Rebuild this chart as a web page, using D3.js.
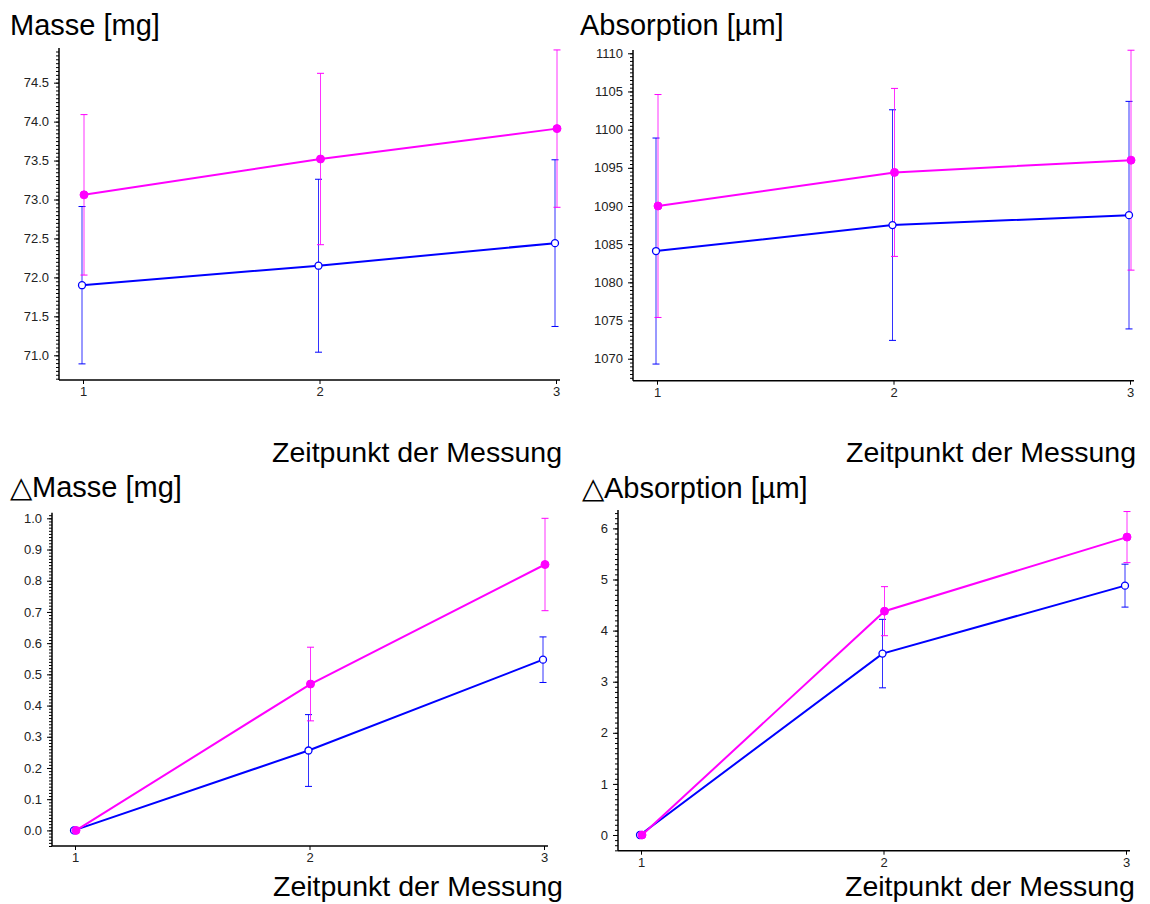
<!DOCTYPE html>
<html><head><meta charset="utf-8">
<script src="https://cdn.jsdelivr.net/npm/d3@7"></script>
<style>
html,body{margin:0;padding:0;background:#fff;}
svg{display:block;font-family:"Liberation Sans",Arial,Helvetica,sans-serif;}
</style></head>
<body>
<svg id="c" width="1150" height="904"></svg>
<script>
// ---------- data ----------
const categories = [1, 2, 3];
const xTickLabels = ["1", "2", "3"];
const xAxisLabel = "Zeitpunkt der Messung";

const titles = ["Masse [mg]", "Absorption [µm]", "\u25B3Masse [mg]", "\u25B3Absorption [µm]"];

const masseMag      = [73.06, 73.52, 73.91];
const masseMagErr   = [1.03, 1.10, 1.01];
const masseBlue     = [71.90, 72.15, 72.44];
const masseBlueErr  = [1.01, 1.11, 1.07];

const absMag        = [1090.0, 1094.4, 1096.0];
const absMagErr     = [14.6, 11.0, 14.4];
const absBlue       = [1084.1, 1087.5, 1088.8];
const absBlueErr    = [14.8, 15.1, 14.9];

const dMasseMag     = [0, 0.469, 0.852];
const dMasseMagErr  = [0, 0.118, 0.148];
const dMasseBlue    = [0, 0.256, 0.547];
const dMasseBlueErr = [0, 0.115, 0.073];

const dAbsMag       = [0, 4.38, 5.83];
const dAbsMagErr    = [0, 0.48, 0.50];
const dAbsBlue      = [0, 3.55, 4.88];
const dAbsBlueErr   = [0, 0.67, 0.42];

const yTicks1 = [71.0, 71.5, 72.0, 72.5, 73.0, 73.5, 74.0, 74.5];
const yTicks2 = [1070, 1075, 1080, 1085, 1090, 1095, 1100, 1105, 1110];
const yTicks3 = [0.0, 0.1, 0.2, 0.3, 0.4, 0.5, 0.6, 0.7, 0.8, 0.9, 1.0];
const yTicks4 = [0, 1, 2, 3, 4, 5, 6];

// ---------- layout / style ----------
const MAG = "#ff00ff", BLUE = "#0000ff";
const svg = d3.select("#c");

const panels = [
  {title: titles[0], tx: 10, ty: 35, left: 59, x1: 83, x3: 556, xEnd: 560, top: 48, bottom: 380,
   yDom: [70.683, 74.945], ticks: yTicks1, fmt: d3.format(".1f"), minor: 0.05,
   mag: masseMag, magErr: masseMagErr, blue: masseBlue, blueErr: masseBlueErr,
   lx: 562, ly: 462, anchor: "end"},
  {title: titles[1], tx: 580, ty: 35, left: 633, x1: 657, x3: 1130, xEnd: 1134, top: 50, bottom: 380.7,
   yDom: [1067.12, 1110.43], ticks: yTicks2, fmt: d3.format("d"), minor: 0.5,
   mag: absMag, magErr: absMagErr, blue: absBlue, blueErr: absBlueErr,
   lx: 1136, ly: 462, anchor: "end"},
  {title: titles[2], tx: 10, ty: 497, left: 52, x1: 75, x3: 544, xEnd: 548, top: 512.7, bottom: 846,
   yDom: [-0.050, 1.018], ticks: yTicks3, fmt: d3.format(".1f"), minor: 0.01,
   mag: dMasseMag, magErr: dMasseMagErr, blue: dMasseBlue, blueErr: dMasseBlueErr,
   lx: 273, ly: 896, anchor: "start"},
  {title: titles[3], tx: 582, ty: 498, left: 618, x1: 641, x3: 1126, xEnd: 1130, top: 510, bottom: 850.7,
   yDom: [-0.307, 6.36], ticks: yTicks4, fmt: d3.format("d"), minor: 0.1,
   mag: dAbsMag, magErr: dAbsMagErr, blue: dAbsBlue, blueErr: dAbsBlueErr,
   lx: 845, ly: 896, anchor: "start"}
];

panels.forEach(p => {
  const g = svg.append("g");
  const x = d3.scaleLinear().domain([categories[0], categories[categories.length-1]]).range([p.x1, p.x3]);
  const y = d3.scaleLinear().domain(p.yDom).range([p.bottom, p.top]);

  // title
  g.append("text").attr("x", p.tx).attr("y", p.ty).attr("font-size", 29).attr("fill", "#000").text(p.title);
  // x axis label
  g.append("text").attr("x", p.lx).attr("y", p.ly).attr("font-size", 28.5).attr("fill", "#000")
    .attr("text-anchor", p.anchor).text(xAxisLabel);

  // minor ticks on y
  const n0 = Math.ceil(p.yDom[0] / p.minor - 1e-6), n1 = Math.floor(p.yDom[1] / p.minor + 1e-6);
  const minorVals = d3.range(n0, n1 + 1).map(i => i * p.minor);
  const yMinor = d3.axisLeft(y).tickValues(minorVals).tickSize(3).tickFormat("");
  const gm = g.append("g").attr("transform", `translate(${p.left},0)`).call(yMinor);
  gm.select(".domain").remove();
  gm.selectAll("line").attr("stroke", "#000").attr("stroke-width", 1);

  // major y axis
  const yAxis = d3.axisLeft(y).tickValues(p.ticks).tickFormat(p.fmt).tickSize(5).tickPadding(5);
  const gy = g.append("g").attr("transform", `translate(${p.left},0)`).call(yAxis);
  gy.select(".domain").remove();
  gy.selectAll("line").attr("stroke", "#000").attr("stroke-width", 1);
  gy.selectAll("text").attr("font-size", 13).attr("fill", "#222")
    .attr("font-family", '"Liberation Sans",Arial,sans-serif');
  g.append("line").attr("x1", p.left).attr("x2", p.left).attr("y1", p.top).attr("y2", p.bottom)
    .attr("stroke", "#000").attr("stroke-width", 1.5);

  // x axis
  const xAxis = d3.axisBottom(x).tickValues(categories).tickFormat((d, i) => xTickLabels[i]).tickSize(4).tickPadding(3);
  const gx = g.append("g").attr("transform", `translate(0,${p.bottom})`).call(xAxis);
  gx.select(".domain").remove();
  gx.selectAll("line").attr("stroke", "#000").attr("stroke-width", 1);
  gx.selectAll("text").attr("font-size", 13).attr("fill", "#222")
    .attr("font-family", '"Liberation Sans",Arial,sans-serif');
  g.append("line").attr("x1", p.left).attr("x2", p.xEnd).attr("y1", p.bottom).attr("y2", p.bottom)
    .attr("stroke", "#000").attr("stroke-width", 1.5);

  const series = [
    {vals: p.blue, errs: p.blueErr, color: BLUE, dx: -1, open: true},
    {vals: p.mag, errs: p.magErr, color: MAG, dx: 1, open: false}
  ];

  // error bars
  series.forEach(s => {
    categories.forEach((c, i) => {
      if (!s.errs[i]) return;
      const cx = x(c) + s.dx;
      const yt = y(s.vals[i] + s.errs[i]), yb = y(s.vals[i] - s.errs[i]);
      g.append("line").attr("x1", cx).attr("x2", cx).attr("y1", yt).attr("y2", yb)
        .attr("stroke", s.color).attr("stroke-width", 1).attr("opacity", 0.8);
      [yt, yb].forEach(yy => g.append("line").attr("x1", cx - 3.5).attr("x2", cx + 3.5)
        .attr("y1", yy).attr("y2", yy).attr("stroke", s.color).attr("stroke-width", 1));
    });
  });

  // lines
  series.forEach(s => {
    const line = d3.line().x((d, i) => x(categories[i]) + s.dx).y(d => y(d));
    g.append("path").datum(s.vals).attr("d", line).attr("fill", "none")
      .attr("stroke", s.color).attr("stroke-width", 2);
  });

  // markers
  series.forEach(s => {
    g.selectAll(null).data(s.vals).enter().append("circle")
      .attr("cx", (d, i) => x(categories[i]) + s.dx).attr("cy", d => y(d))
      .attr("r", s.open ? 3.5 : 4)
      .attr("fill", s.open ? "#fff" : s.color)
      .attr("stroke", s.color).attr("stroke-width", s.open ? 1.3 : 1);
  });
});
</script>
</body></html>
